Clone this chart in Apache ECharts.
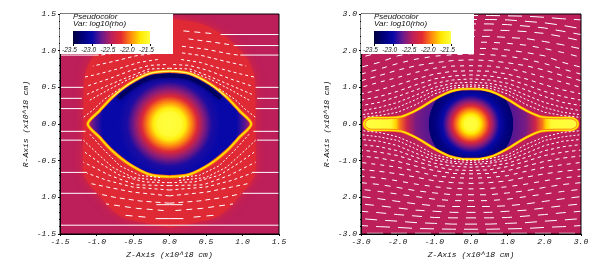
<!DOCTYPE html>
<html><head><meta charset="utf-8">
<style>html,body{margin:0;padding:0;background:#fff}#c{width:600px;height:277px}</style>
<script src="https://cdn.jsdelivr.net/npm/echarts@6/dist/echarts.min.js"></script>
</head><body><div id="c"></div>
<script>
// colour table, evenly spaced over the colour-bar range
const colorTable = ['#00003c','#00007c','#0808a8','#6a1a8c','#bc1f5a','#e42a30','#ff8a10','#ffe800','#ffff40'];
const cbarMin = -23.5, cbarMax = -21.5;
const cbarTicks = ['-23.5','-23.0','-22.5','-22.0','-21.5'];
const titleX = 'Z-Axis (x10^18 cm)', titleY = 'R-Axis (x10^18 cm)';
const legendTitle = 'Pseudocolor', legendVar = 'Var: log10(rho)';
const leftXLabels = ['-1.5','-1.0','-0.5','0.0','0.5','1.0','1.5'];
const leftYLabels = ['-1.5','1.0','-0.5','0.0','0.5','1.0','1.5'];
const rightXLabels = ['-3.0','-2.0','-1.0','0.0','1.0','2.0','3.0'];
const rightYLabels = ['-3.0','2.0','-1.0','0.0','1.0','2.0','3.0'];

// log10(rho) levels
const bgValue = -22.5, leftBubbleValue = -22.28;
// right half of each outline, top to bottom (z, r)
const leftBubble = [[0,1.43],[.1,1.43],[.46,1.36],[.78,1.18],[1.05,.91],[1.16,.66],[1.18,.2],[1.18,-.2],[1.18,-.66],[1.1,-.82],[.98,-.95],[.85,-1.11],[.64,-1.27],[.27,-1.36],[0,-1.41]];
const leftShell = [[0,.72],[.27,.69],[.55,.55],[.78,.37],[.96,.18],[1.12,0],[.96,-.18],[.78,-.37],[.55,-.55],[.27,-.69],[0,-.72]];
const leftRim = [[0,.66],[.27,.63],[.5,.51],[.7,.35]];
const rightShell = [[0,.96],[.27,.95],[.55,.89],[.82,.77],[1.09,.62],[1.36,.45],[1.64,.3],[1.9,.2],[2.27,.17],[2.73,.17],[2.88,.1],[2.92,0],[2.88,-.1],[2.73,-.17],[2.27,-.17],[1.9,-.2],[1.64,-.3],[1.36,-.45],[1.09,-.62],[.82,-.77],[.55,-.89],[.27,-.95],[0,-.96]];
// radial density profiles: distance from centre and log10(rho)
const leftProfileR = [0,.16,.22,.3,.38,.47,.58,.7,.92,1.03,1.12];
const leftProfileV = [-21.5,-21.55,-21.7,-22.0,-22.3,-22.65,-22.95,-23.0,-23.0,-22.8,-22.5];
const rightProfileR = [0,.18,.27,.38,.5,.62,.78,.95,1.14,1.16,1.5,1.75,1.95,2.05,2.2,2.92];
const rightProfileV = [-21.5,-21.55,-21.75,-22.0,-22.3,-22.65,-23.0,-23.2,-23.3,-22.8,-22.7,-22.4,-22.05,-21.8,-21.55,-21.5];

// velocity streamlines of the left panel, right half: dashed parts
const leftDashed = [
 [[.19,1.27],[.62,1.23]],[[.26,1.16],[.57,1.12],[.84,1.08]],[[.17,1.06],[.5,1.02],[.8,.96],[.94,.94]],
 [[.17,.97],[.46,.93],[.74,.86],[1.05,.79]],[[.16,.88],[.42,.84],[.68,.76],[.94,.69],[1.16,.64]],
 [[.05,.81],[.27,.8],[.53,.73],[.82,.62],[1.15,.51]],[[0,.76],[.28,.75],[.52,.66],[.81,.54],[1.14,.4]],
 [[.28,.72],[.56,.61],[.85,.46],[1.1,.32]],[[.68,.48],[.89,.34],[1.05,.19],[1.18,.09]],
 [[.13,-.73],[.41,-.7],[.68,-.57],[.91,-.34],[1.1,-.13]],[[.13,-.77],[.5,-.73],[.78,-.59],[.98,-.41],[1.18,-.22]],
 [[0,-.8],[.34,-.79],[.68,-.7],[.94,-.54],[1.18,-.37]],[[0,-.84],[.46,-.83],[.82,-.7],[1.18,-.52]],
 [[0,-.9],[.5,-.86],[.85,-.77],[1.13,-.67]],[[0,-.98],[.5,-.93],[.85,-.86],[1.09,-.81]],
 [[0,-1.08],[.4,-1.05],[.75,-1],[.98,-.95]],[[.08,-1.18],[.45,-1.15],[.87,-1.09]],[[.33,-1.27],[.66,-1.24]]
];
const leftDash = [[6,5],[5,4],[4,3.5],[3.5,3],[3,3],[3,3],[2.5,2.5],[2,2],[2,2],[2,2],[2,2],[2.5,2.5],[3,3],[3,3],[4,3.5],[5,4],[6,5],[7,6]];
// solid parts
const leftSolid = [
 [[.7,1.22],[1.5,1.22]],[[.88,1.07],[1.5,1.07]],[[.97,.94],[1.5,.94]],[[1.18,.5],[1.5,.5]],[[1.2,.35],[1.5,.35]],[[1.18,.21],[1.5,.21]],
 [[1.15,-.1],[1.5,-.1]],[[1.2,-.22],[1.5,-.22]],[[1.13,-.66],[1.5,-.66]],[[1,-.945],[1.5,-.945]],[[0,-1.38],[1.5,-1.38]],
 [[0,-1.1],[.18,-1.1]],[[0,-1.29],[.19,-1.29]]
];
// right panel streamlines: r at each of these z positions
const rightZ = [0,.5,1,1.5,2,2.5,3];
const rightUpper = [
 [1.02,.98,.82,.53,.32,.23,.18],[1.07,1.04,.91,.67,.45,.32,.25],[1.14,1.11,1,.79,.59,.45,.36],[1.23,1.2,1.11,.93,.75,.59,.5],
 [1.34,1.31,1.23,1.07,.89,.75,.65],[1.45,1.44,1.36,1.23,1.07,.93,.82],[1.59,1.58,1.52,1.41,1.27,1.14,1],[1.75,1.73,1.67,1.59,1.47,1.32,1.18],
 [1.91,1.89,1.85,1.77,1.65,1.5,1.36],[2.06,2.06,2.02,1.95,1.86,1.68,1.55],[2.23,2.23,2.2,2.15,2.06,1.95,1.82],[2.39,2.39,2.36,2.33,2.25,2.16,2.05],
 [2.56,2.56,2.55,2.52,2.47,2.38,2.27],[2.73,2.73,2.71,2.67,2.62,2.53,2.44],[2.85,2.85,2.84,2.8,2.76,2.69,2.6],[2.96,2.96,2.95,2.94,2.91,2.87,2.84]
];
const rightLower = [
 [-1,-.95,-.84,-.56,-.35,-.23,-.18],[-1.05,-1.02,-.91,-.68,-.45,-.35,-.29],[-1.11,-1.07,-.98,-.8,-.59,-.47,-.42],[-1.18,-1.15,-1.07,-.91,-.73,-.62,-.56],
 [-1.27,-1.25,-1.16,-1.02,-.86,-.77,-.71],[-1.36,-1.35,-1.27,-1.15,-1.02,-.93,-.87],[-1.48,-1.46,-1.41,-1.29,-1.18,-1.11,-1.05],[-1.62,-1.6,-1.55,-1.45,-1.36,-1.29,-1.24],
 [-1.77,-1.76,-1.71,-1.64,-1.55,-1.47,-1.42],[-1.93,-1.93,-1.88,-1.82,-1.73,-1.65,-1.6],[-2.09,-2.09,-2.05,-1.98,-1.91,-1.84,-1.78],[-2.25,-2.25,-2.23,-2.18,-2.11,-2.04,-1.98],
 [-2.41,-2.41,-2.38,-2.35,-2.29,-2.23,-2.18],[-2.56,-2.56,-2.55,-2.51,-2.47,-2.42,-2.38],[-2.73,-2.73,-2.71,-2.69,-2.65,-2.62,-2.58],[-2.87,-2.87,-2.86,-2.85,-2.82,-2.8,-2.77],[-2.98,-2.98,-2.98,-2.98,-2.98,-2.98,-2.98]
];
const rightDash = [[2,2],[2,2],[2.5,2.5],[3,3],[3.5,3.5],[4,4],[4,5],[5,5],[5,6],[6,6],[6,7],[8,7],[9,8],[10,8],[12,8],[14,8],[16,8]];

const FONT = 'Liberation Mono';
const level = v => echarts.color.lerp(Math.min(1, Math.max(0, (v - cbarMin) / (cbarMax - cbarMin))), colorTable);
const mirror = half => half.concat(half.slice().reverse().map(p => [-p[0], p[1]]));
const stops = (R, V) => R.map((r, i) => ({offset: r / R[R.length - 1], color: level(V[i])}));

const chart = echarts.init(document.getElementById('c'), null, {renderer: 'canvas'});
const series = [];

function shape(grid, pts, style) {
  series.push({type: 'custom', coordinateSystem: 'cartesian2d', xAxisIndex: grid, yAxisIndex: grid, silent: true,
    data: pts, encode: {x: 0, y: 1}, animation: false,
    renderItem: (params, api) => {
      if (params.dataIndex !== 0) return null;
      const P = pts.map(p => api.coord(p));
      const cs = params.coordSys;
      const o = api.coord([0, 0]);
      const s = Object.assign({}, style);
      if (style.profile) {
        const R = style.profile[0];
        const px = R[R.length - 1] * cs.width / style.span;
        s.fill = new echarts.graphic.RadialGradient(o[0], o[1], px, stops(R, style.profile[1]), true);
        delete s.profile;
      }
      delete s.span;
      return {type: 'polygon', shape: {points: P, smooth: .25},
        style: s, clipPath: {type: 'rect', shape: {x: cs.x, y: cs.y, width: cs.width, height: cs.height}}};
    }});
}
function stroke(grid, data, color, width, dash, offset, blur, smooth) {
  series.push({type: 'line', xAxisIndex: grid, yAxisIndex: grid, data, showSymbol: false, silent: true, smooth: smooth === false ? false : .3, animation: false,
    lineStyle: {color, width, type: dash || 'solid', dashOffset: offset || 0, cap: 'butt', shadowBlur: blur || 0, shadowColor: color}});
}
function both(grid, pts, color, width, dash, offset, blur, smooth) {
  stroke(grid, pts, color, width, dash, offset, blur, smooth);
  stroke(grid, pts.map(p => [-p[0], p[1]]), color, width, dash, offset, blur, smooth);
}

// left panel
shape(0, mirror(leftBubble), {fill: level(leftBubbleValue), shadowBlur: 10, shadowColor: level(leftBubbleValue)});
const leftFull = mirror(leftShell);
shape(0, leftFull, {profile: [leftProfileR, leftProfileV], span: 3});
both(0, leftRim, '#000060', 4, null, 0, 4);
both(0, leftShell, '#ff6a18', 3.4);
both(0, leftShell, '#ffe000', 1.8);
both(0, leftShell.slice(0, 4), '#ffffa0', .8);
leftDashed.forEach((row, i) => both(0, row, '#fff', 1, leftDash[i], 0, 0, false));
leftSolid.forEach(row => both(0, row, '#fff', 1, null, 0, 0, false));

// right panel
const rightFull = mirror(rightShell);
shape(1, rightFull, {profile: [rightProfileR, rightProfileV], span: 6});
both(1, rightShell, '#ff6a18', 2.8);
both(1, rightShell, '#ffe800', 1.6);
rightUpper.concat(rightLower).forEach((row, i) => {
  const pts = row.map((r, k) => [rightZ[k], r]);
  const d = rightDash[i < rightUpper.length ? i : i - rightUpper.length];
  both(1, pts, '#fff', 1, d, d[0] / 2, 0, false);
});

// frames
[[0, 1.5], [1, 3]].forEach(([g, m]) => {
  const pts = [[-m, -m], [m, -m], [m, m], [-m, m]];
  series.push({type: 'custom', xAxisIndex: g, yAxisIndex: g, silent: true, z: 5, data: pts, encode: {x: 0, y: 1}, animation: false, clip: false,
    renderItem: (params, api) => params.dataIndex ? null : {type: 'polygon', shape: {points: pts.map(p => api.coord(p))}, style: {fill: 'none', stroke: '#000', lineWidth: 1}}});
});

// colour bars
[2, 3].forEach(g => {
  const pts = [[cbarMin, 0], [cbarMax, 0], [cbarMax, 1], [cbarMin, 1]];
  series.push({type: 'custom', xAxisIndex: g, yAxisIndex: g, silent: true, z: 20, data: pts, encode: {x: 0, y: 1}, animation: false, clip: false,
    renderItem: (params, api) => {
      if (params.dataIndex) return null;
      const P = pts.map(p => api.coord(p));
      return {type: 'polygon', z2: 20, shape: {points: P}, style: {fill: new echarts.graphic.LinearGradient(P[0][0], 0, P[1][0], 0,
        colorTable.map((c, i) => ({offset: i / (colorTable.length - 1), color: c})), true)}};
    }});
});

const mainX = (m, iv, labels) => ({type: 'value', min: -m, max: m, interval: iv, z: 6,
  name: titleX, nameLocation: 'middle', nameGap: 15, nameTextStyle: {fontFamily: FONT, fontStyle: 'italic', fontSize: 8, color: '#111'},
  axisLine: {onZero: false, lineStyle: {color: '#000'}}, axisTick: {length: 2, lineStyle: {color: '#000'}},
  minorTick: {show: true, splitNumber: 5, length: 1, lineStyle: {color: '#000'}}, splitLine: {show: false}, minorSplitLine: {show: false},
  axisLabel: {margin: 4, fontFamily: FONT, fontStyle: 'italic', fontSize: 8, color: '#111', formatter: (v, i) => labels[i]}});
const mainY = (m, iv, labels) => ({type: 'value', min: -m, max: m, interval: iv, z: 6,
  name: titleY, nameLocation: 'middle', nameGap: 30, nameTextStyle: {fontFamily: FONT, fontStyle: 'italic', fontSize: 8, color: '#111'},
  axisLine: {onZero: false, lineStyle: {color: '#000'}}, axisTick: {length: 2, lineStyle: {color: '#000'}},
  minorTick: {show: true, splitNumber: 5, length: 1, lineStyle: {color: '#000'}}, splitLine: {show: false}, minorSplitLine: {show: false},
  axisLabel: {margin: 4, fontFamily: FONT, fontStyle: 'italic', fontSize: 8, color: '#111', formatter: (v, i) => labels[i]}});
const cbarX = () => ({type: 'value', min: cbarMin, max: cbarMax, interval: .5, z: 21,
  axisLine: {show: false}, axisTick: {length: 2, lineStyle: {color: '#000'}}, splitLine: {show: false},
  axisLabel: {margin: 3, padding: [0, 7, 0, 0], fontFamily: 'Liberation Sans', fontStyle: 'italic', fontSize: 6.5, color: '#111', formatter: (v, i) => cbarTicks[i]}});
const cbarY = () => ({type: 'value', min: 0, max: 1, show: false});

const legendBits = x => [
  {type: 'rect', z: 10, silent: true, shape: {x, y: 14, width: 113, height: 40}, style: {fill: '#fff'}},
  {type: 'text', z: 30, silent: true, x: x + 13, y: 16.5, style: {text: legendTitle, font: 'italic 8px "Liberation Sans"', fill: '#111', verticalAlign: 'middle'}},
  {type: 'text', z: 30, silent: true, x: x + 13, y: 24, style: {text: legendVar, font: 'italic 8px "Liberation Sans"', fill: '#111', verticalAlign: 'middle'}}
];

chart.setOption({
  animation: false,
  backgroundColor: '#fff',
  grid: [
    {left: 60, top: 14, width: 219, height: 220, show: true, backgroundColor: level(bgValue), borderWidth: 0},
    {left: 361, top: 14, width: 220, height: 220, show: true, backgroundColor: level(bgValue), borderWidth: 0},
    {left: 73, top: 31, width: 77, height: 13},
    {left: 374, top: 31, width: 77, height: 13}
  ],
  xAxis: [mainX(1.5, .5, leftXLabels), mainX(3, 1, rightXLabels), cbarX(), cbarX()].map((a, i) => Object.assign(a, {gridIndex: i})),
  yAxis: [mainY(1.5, .5, leftYLabels), mainY(3, 1, rightYLabels), cbarY(), cbarY()].map((a, i) => Object.assign(a, {gridIndex: i})),
  graphic: {elements: legendBits(60).concat(legendBits(361))},
  series
});
</script></body></html>
